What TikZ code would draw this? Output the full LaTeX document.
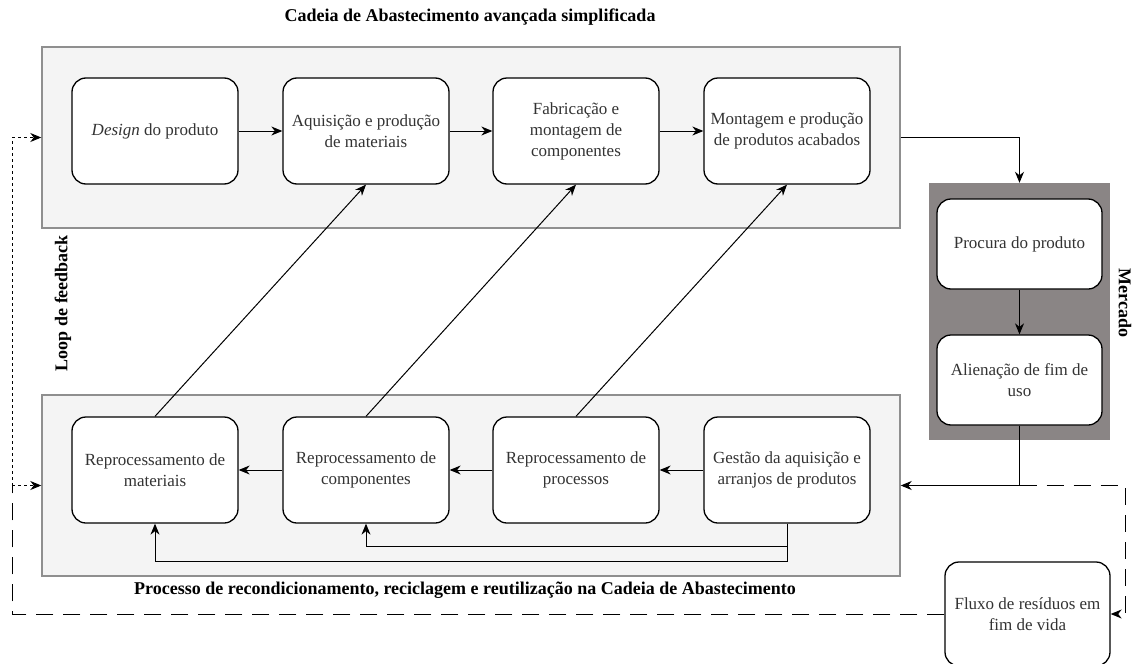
\documentclass[tikz,border=0pt]{standalone}
\usepackage{fontspec}
\setmainfont{Liberation Serif}
\usetikzlibrary{arrows.meta}
\definecolor{panelfill}{HTML}{F4F4F4}
\definecolor{paneledge}{HTML}{8F8F8F}
\definecolor{marketfill}{HTML}{8A8585}
\definecolor{boxtext}{HTML}{333333}
\begin{document}
\begin{tikzpicture}[x=1pt,y=-1pt,
  font=\fontsize{17}{21}\selectfont,
  panel/.style={draw=paneledge,fill=panelfill,line width=1.4pt,minimum width=858pt,minimum height=181pt,inner sep=0pt},
  market/.style={fill=marketfill,minimum width=181pt,minimum height=257pt,inner sep=0pt},
  stepbox/.style={draw,rounded corners=14pt,fill=white,line width=1.3pt,minimum width=166pt,minimum height=106pt,inner sep=2pt,align=center,text=boxtext},
  marketbox/.style={stepbox,minimum width=165pt,minimum height=90pt},
  flow/.style={-{Stealth[length=11pt,width=9pt,inset=3.5pt]},line width=1pt},
  loopline/.style={flow,dash pattern=on 3pt off 3pt},
  wasteline/.style={line width=1pt,dash pattern=on 17pt off 10pt},
  caption/.style={font=\fontsize{18}{20}\selectfont\bfseries}]
\useasboundingbox (0,0) rectangle (1136,664);

% paineis
\node[panel] (upper) at (471,137.5) {};
\node[panel] (lower) at (471,485.5) {};
\node[market] (mercado) at (1019.5,311.5) {};

% cadeia avancada
\node[stepbox] (design) at (155,131) {\textit{Design} do produto};
\node[stepbox] (aquis) at (366,131) {Aquisição e produção\\de materiais};
\node[stepbox] (fabric) at (576,131) {Fabricação e\\montagem de\\componentes};
\node[stepbox] (montag) at (787,131) {Montagem e produção\\de produtos acabados};

% mercado
\node[marketbox] (procura) at (1019.5,244) {Procura do produto};
\node[marketbox] (alien) at (1019.5,380) {Alienação de fim de\\uso};

% cadeia inversa
\node[stepbox] (rmat) at (155,470) {Reprocessamento de\\materiais};
\node[stepbox] (rcomp) at (366,470) {Reprocessamento de\\componentes};
\node[stepbox] (rproc) at (576,470) {Reprocessamento de\\processos};
\node[stepbox] (gestao) at (787,470) {Gestão da aquisição e\\arranjos de produtos};

\node[stepbox,minimum width=165pt,minimum height=104pt] (fluxo) at (1027.5,614) {Fluxo de resíduos em\\fim de vida};

% titulos
\node[caption] (toptitle) at (470,17) {Cadeia de Abastecimento avançada simplificada};
\node[caption] (bottomtitle) at (465,590) {Processo de recondicionamento, reciclagem e reutilização na Cadeia de Abastecimento};
\node[caption,rotate=90] (looplabel) at (63,303) {Loop de feedback};
\node[caption,rotate=-90] (marketlabel) at (1125,303) {Mercado};

% ligacoes
\draw[flow] (design) -- (aquis);
\draw[flow] (aquis) -- (fabric);
\draw[flow] (fabric) -- (montag);
\draw[flow] (upper.east) -| (mercado.north);
\draw[flow] (procura) -- (alien);
\draw[flow] (alien.south) |- (lower.east);
\draw[flow] (gestao) -- (rproc);
\draw[flow] (rproc) -- (rcomp);
\draw[flow] (rcomp) -- (rmat);
\draw[flow] (gestao.south) -- ++(0,23) -| (rcomp.south);
\draw[flow] (gestao.south) -- ++(0,38) -| (rmat.south);
\draw[flow] (rmat.north) -- (aquis.south);
\draw[flow] (rcomp.north) -- (fabric.south);
\draw[flow] (rproc.north) -- (montag.south);

% residuos e loop
\coordinate (split) at (alien.south |- lower.east);
\coordinate (bend) at (1125,485.5);
\coordinate (loopfoot) at (12,485.5);
\coordinate (loophead) at (12,137.5);
\draw[wasteline,-{Stealth[length=11pt,width=9pt,inset=3.5pt]}] (split) -- (bend) |- (fluxo.east);
\draw[wasteline] (fluxo.west) -| (loopfoot);
\draw[loopline] (loopfoot) -- (lower.west);
\draw[loopline] (loopfoot) -- (loophead) -- (upper.west);
\end{tikzpicture}
\end{document}
